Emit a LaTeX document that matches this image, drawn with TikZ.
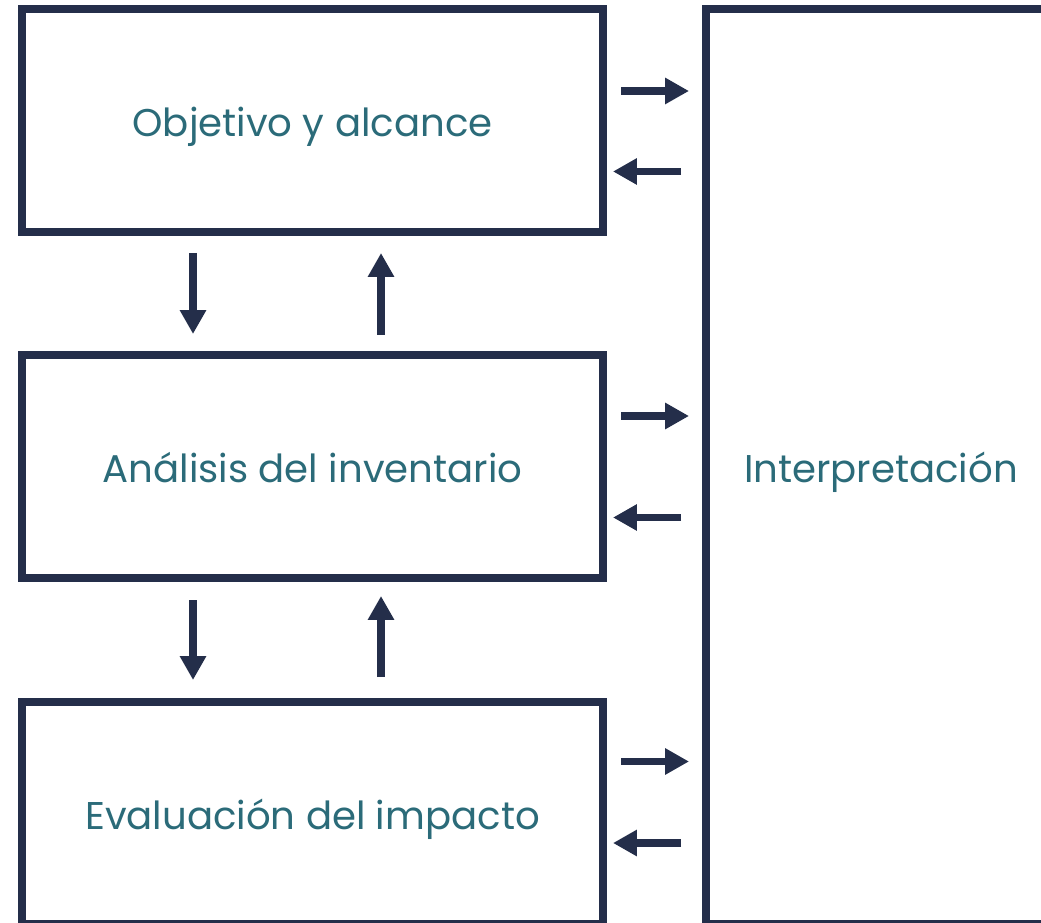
\documentclass[tikz,border=0pt]{standalone}
\usepackage{fontspec}
\setmainfont{Poppins}
\usetikzlibrary{arrows.meta}
\definecolor{darknavy}{HTML}{242E4A}
\definecolor{tealtext}{HTML}{2B6B79}
\tikzstyle{stage}=[draw=darknavy,line width=4.5pt,outer sep=0pt,text=tealtext,font=\fontsize{22}{26}\selectfont,text height=18.4pt,text depth=0pt,inner sep=0pt,minimum width=11.62cm,minimum height=4.46cm]
\tikzstyle{flow}=[draw=darknavy,line width=4.5pt,-{Triangle[length=13.6pt,width=14.2pt]}]

\begin{document}
\begin{tikzpicture}
    \useasboundingbox (0,0) rectangle (20.82,18.44);
    \clip (0,0) rectangle (20.82,18.44);
    % The three stages on the left
    \node[stage] (obj) at (6.25,16.03) {Objetivo y alcance};
    \node[stage] (inv) at (6.25,9.11) {Análisis del inventario};
    \node[stage,minimum height=4.44cm] (imp) at (6.25,2.18) {Evaluación del impacto};
    % The tall box on the right
    \node[stage,minimum width=7cm,minimum height=18.3cm] (interp) at (17.62,9.11) {Interpretación};

    % Arrows between the stages
    \draw[flow,shorten <=0.42cm,shorten >=0.42cm] ([xshift=-2.39cm]obj.south) -- ([xshift=-2.39cm]inv.north);
    \draw[flow,shorten <=0.40cm,shorten >=0.42cm] ([xshift=1.37cm]inv.north) -- ([xshift=1.37cm]obj.south);
    \draw[flow,shorten <=0.44cm,shorten >=0.44cm] ([xshift=-2.39cm]inv.south) -- ([xshift=-2.39cm]imp.north);
    \draw[flow,shorten <=0.50cm,shorten >=0.36cm] ([xshift=1.37cm]imp.north) -- ([xshift=1.37cm]inv.south);

    % Arrows to and from the interpretation
    \foreach \stage/\there/\back in {obj/0.59/-1.02, inv/1.01/-1.02, imp/1.03/-0.6} {
        \draw[flow,shorten <=0.36cm,shorten >=0.34cm] ([yshift=\there cm]\stage.east) -- ([yshift=\there cm]\stage.east -| interp.west);
        \draw[flow,shorten <=0.50cm,shorten >=0.20cm] ([yshift=\back cm]\stage.east -| interp.west) -- ([yshift=\back cm]\stage.east);
    }
\end{tikzpicture}
\end{document}
